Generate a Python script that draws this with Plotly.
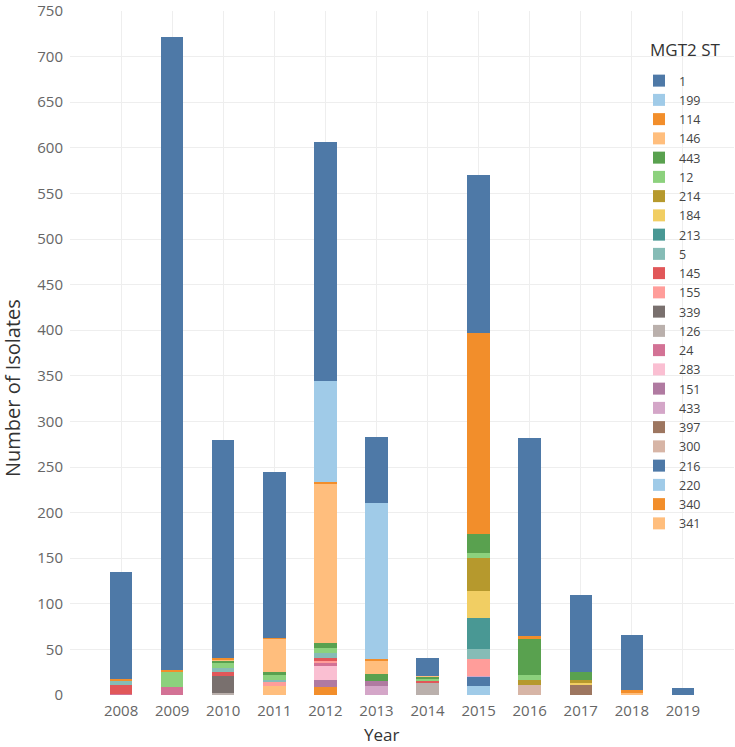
import plotly.graph_objects as go

years = [2008, 2009, 2010, 2011, 2012, 2013, 2014, 2015, 2016, 2017, 2018, 2019]

# MGT2 ST counts per year (bottom of stack first)
st_341 = [0, 0, 0, 10, 0, 0, 0, 0, 0, 0, 0, 0]
st_340 = [0, 0, 0, 0, 9, 0, 0, 0, 0, 0, 0, 0]
st_220 = [0, 0, 0, 0, 0, 0, 0, 10, 0, 0, 0, 0]
st_216 = [0, 0, 0, 0, 0, 0, 0, 10, 0, 0, 0, 0]
st_300 = [0, 0, 0, 0, 0, 0, 0, 0, 11, 0, 0, 0]
st_397 = [0, 0, 0, 0, 0, 0, 0, 0, 0, 12, 0, 0]
st_433 = [0, 0, 0, 0, 0, 10, 0, 1, 0, 0, 0, 0]
st_151 = [0, 0, 0, 0, 8, 5, 0, 0, 0, 0, 0, 0]
st_283 = [0, 0, 0, 0, 15, 0, 0, 0, 0, 0, 0, 0]
st_24 = [1, 9, 0, 0, 4, 0, 0, 0, 0, 0, 0, 0]
st_126 = [0, 0, 2, 0, 0, 0, 14, 0, 0, 0, 0, 0]
st_339 = [0, 0, 19, 0, 0, 0, 0, 0, 0, 0, 0, 0]
st_155 = [0, 0, 0, 4, 1, 0, 0, 18, 0, 0, 0, 0]
st_145 = [10, 0, 4, 0, 4, 0, 1, 0, 0, 0, 0, 0]
st_5 = [5, 0, 5, 3, 5, 0, 0, 11, 0, 0, 0, 0]
st_213 = [0, 0, 0, 0, 0, 0, 0, 34, 0, 0, 0, 0]
st_184 = [0, 0, 0, 0, 0, 0, 0, 30, 0, 2, 0, 0]
st_214 = [0, 0, 0, 0, 0, 0, 0, 36, 5, 2, 0, 0]
st_12 = [0, 17, 5, 5, 6, 0, 3, 6, 6, 0, 0, 0]
st_443 = [0, 0, 3, 3, 5, 8, 2, 20, 39, 9, 0, 0]
st_146 = [0, 0, 1, 37, 175, 14, 1, 0, 0, 0, 3, 0]
st_114 = [2, 1, 2, 1, 2, 3, 0, 221, 4, 0, 2, 0]
st_199 = [0, 0, 0, 0, 110, 170, 0, 0, 0, 0, 0, 0]
st_1 = [117, 694, 239, 182, 262, 73, 20, 173, 217, 85, 61, 8]

series = [
    ("341", st_341, "#ffbe7d"),
    ("340", st_340, "#f28e2b"),
    ("220", st_220, "#a0cbe8"),
    ("216", st_216, "#4e79a7"),
    ("300", st_300, "#d7b5a6"),
    ("397", st_397, "#9d7660"),
    ("433", st_433, "#d4a6c8"),
    ("151", st_151, "#b07aa1"),
    ("283", st_283, "#fabfd2"),
    ("24", st_24, "#d37295"),
    ("126", st_126, "#bab0ac"),
    ("339", st_339, "#79706e"),
    ("155", st_155, "#ff9d9a"),
    ("145", st_145, "#e15759"),
    ("5", st_5, "#86bcb6"),
    ("213", st_213, "#499894"),
    ("184", st_184, "#f1ce63"),
    ("214", st_214, "#b6992d"),
    ("12", st_12, "#8cd17d"),
    ("443", st_443, "#59a14f"),
    ("146", st_146, "#ffbe7d"),
    ("114", st_114, "#f28e2b"),
    ("199", st_199, "#a0cbe8"),
    ("1", st_1, "#4e79a7"),
]

W, H = 735, 747
ML, MR, MT, MB = 70, 1, 11, 52
PW = W - ML - MR
PH = H - MT - MB
BOT = H - MB


def px(xp):
    return (xp - ML) / PW


def py(yp):
    return (BOT - yp) / PH


fig = go.Figure()
for name, vals, color in series:
    fig.add_trace(go.Bar(
        x=years, y=vals, name=name, width=0.44,
        marker=dict(color=color, line=dict(width=0)),
    ))

fig.update_layout(
    width=W, height=H,
    barmode="stack",
    paper_bgcolor="white", plot_bgcolor="white",
    margin=dict(l=ML, r=MR, t=MT, b=MB, autoexpand=False),
    font=dict(family="Open Sans", color="#555555"),
    legend=dict(
        traceorder="reversed",
        font=dict(size=12.5, color="#444444"),
        x=px(639), xanchor="left", y=py(66), yanchor="top",
        bgcolor="rgba(0,0,0,0)",
    ),
    shapes=[dict(
        type="rect", xref="paper", yref="paper", layer="between",
        x0=px(633), x1=1.0, y0=py(550), y1=py(30),
        fillcolor="white", line=dict(width=0),
    )],
    annotations=[
        dict(text="MGT2 ST", xref="paper", yref="paper", x=px(648),
             y=py(50), xanchor="left", yanchor="middle",
             showarrow=False, font=dict(size=17, color="#333333")),
        dict(text="Year", xref="paper", yref="paper", x=px(381),
             y=py(735), xanchor="center", yanchor="middle",
             showarrow=False, font=dict(size=17, color="#333333")),
        dict(text="Number of Isolates", xref="paper", yref="paper", x=px(12),
             y=py(388), xanchor="center", yanchor="middle", textangle=-90,
             showarrow=False,
             font=dict(family="Open Sans", size=20, color="#333333")),
    ],
    xaxis=dict(
        range=[2007, 2020], automargin=False,
        tickvals=[2007] + years + [2020],
        ticktext=[""] + [str(y) for y in years] + [""],
        showgrid=True, gridcolor="#eeeeee", gridwidth=1,
        zeroline=False, showline=False, ticks="",
        ticklabelstandoff=5,
        tickfont=dict(size=15, color="#666666"),
    ),
    yaxis=dict(
        range=[0, 750], tickvals=list(range(0, 751, 50)), automargin=False,
        showgrid=True, gridcolor="#eeeeee", gridwidth=1,
        zeroline=False, showline=False, ticks="",
        ticklabeloverflow="allow", ticklabelstandoff=6,
        tickfont=dict(size=15, color="#666666"),
    ),
)

fig.write_html("out.html")
